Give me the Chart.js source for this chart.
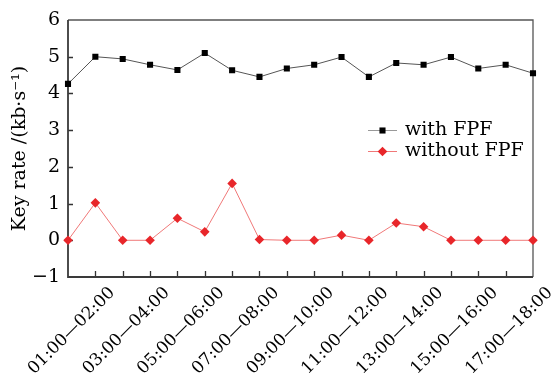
<!DOCTYPE html>
<html><head><meta charset="utf-8">
<script src="https://cdn.jsdelivr.net/npm/chart.js@4/dist/chart.umd.min.js"></script>
<style>html,body{margin:0;padding:0;background:#fff}#wrap{width:557px;height:374px}</style>
</head><body><div id="wrap"><canvas id="c" width="557" height="374"></canvas></div>
<script>
const categories = ['00:00—01:00','01:00—02:00','02:00—03:00','03:00—04:00','04:00—05:00','05:00—06:00',
  '06:00—07:00','07:00—08:00','08:00—09:00','09:00—10:00','10:00—11:00','11:00—12:00',
  '12:00—13:00','13:00—14:00','14:00—15:00','15:00—16:00','16:00—17:00','17:00—18:00'];
const withFPF = [4.26,5.00,4.94,4.78,4.64,5.10,4.63,4.45,4.68,4.78,4.99,4.45,4.83,4.78,4.99,4.68,4.78,4.55];
const withoutFPF = [0,1.02,0,0,0.60,0.23,1.55,0.02,0,0,0.14,0,0.47,0.37,0,0,0,0];
const yTicks = [-1,0,1,2,3,4,5,6];
const seriesNames = ['with FPF','without FPF'];

const FONT = 'DejaVu Serif';

const framePlugin = {
  id: 'frame',
  beforeDatasetsDraw(chart) {
    const {ctx, chartArea: a, scales: {x, y}} = chart;
    ctx.save();
    ctx.strokeStyle = '#555'; ctx.lineWidth = 1.3;
    ctx.beginPath();
    ctx.moveTo(a.left, a.top); ctx.lineTo(a.right, a.top); ctx.lineTo(a.right, a.bottom);
    ctx.stroke();
    ctx.strokeStyle = '#333'; ctx.lineWidth = 1.3;
    ctx.beginPath();
    for (let i = 1; i < categories.length - 1; i++) {
      const px = Math.round(x.getPixelForValue(i)) + 0.5;
      ctx.moveTo(px, a.bottom); ctx.lineTo(px, a.bottom - 6);
    }
    for (const v of yTicks) {
      if (v === yTicks[0] || v === yTicks[yTicks.length-1]) continue;
      const py = Math.round(y.getPixelForValue(v)) + 0.5;
      ctx.moveTo(a.left, py); ctx.lineTo(a.left + 5, py);
    }
    ctx.stroke();
    ctx.strokeStyle = '#3a3a3a'; ctx.lineWidth = 1.8;
    ctx.beginPath();
    ctx.moveTo(a.left, a.top); ctx.lineTo(a.left, a.bottom); ctx.lineTo(a.right, a.bottom);
    ctx.stroke();
    ctx.restore();
  },
  afterDraw(chart) {
    const {ctx} = chart;
    const lx0 = 368, lx1 = 397, tx = 405;
    const rows = [130, 151];
    chart.data.datasets.forEach((ds, i) => {
      const yy = rows[i];
      ctx.save();
      ctx.strokeStyle = ds.legendLineColor; ctx.lineWidth = 1;
      ctx.beginPath(); ctx.moveTo(lx0, yy + 0.5); ctx.lineTo(lx1, yy + 0.5); ctx.stroke();
      ctx.fillStyle = ds.pointBackgroundColor;
      ctx.strokeStyle = ds.pointBackgroundColor;
      Chart.helpers.drawPoint(ctx, {pointStyle: ds.pointStyle, radius: ds.pointRadius, borderWidth: 0}, (lx0 + lx1) / 2, yy + 0.5);
      ctx.fillStyle = '#000';
      ctx.font = '19px "' + FONT + '"';
      ctx.textBaseline = 'middle'; ctx.textAlign = 'left';
      ctx.fillText(ds.label, tx, yy);
      ctx.restore();
    });
  }
};

new Chart(document.getElementById('c'), {
  type: 'line',
  data: {
    labels: categories,
    datasets: [
      {label: seriesNames[0], data: withFPF, borderColor: '#555', borderWidth: 1,
       pointStyle: 'rect', pointRadius: 4.3, pointBackgroundColor: '#000', pointBorderColor: '#000', pointBorderWidth: 0,
       legendLineColor: '#999', tension: 0},
      {label: seriesNames[1], data: withoutFPF, borderColor: '#f07878', borderWidth: 1,
       pointStyle: 'rectRot', pointRadius: 4.8, pointBackgroundColor: '#e8262a', pointBorderColor: '#e8262a', pointBorderWidth: 0,
       legendLineColor: '#f07878', tension: 0}
    ]
  },
  options: {
    responsive: false, animation: false, devicePixelRatio: 1,
    layout: {padding: {top: 20, right: 24, left: 0, bottom: 0}},
    plugins: {legend: {display: false}, tooltip: {enabled: false}},
    scales: {
      x: {
        type: 'category', offset: false,
        grid: {display: false, drawTicks: false}, border: {display: false},
        ticks: {autoSkip: false, maxRotation: 45, minRotation: 45, labelOffset: 17, padding: 6,
          color: '#000', font: {family: FONT, size: 17},
          callback: (v, i) => (i % 2 === 1 ? categories[i] : '')},
        afterFit: s => { s.height = 97; }
      },
      y: {
        min: yTicks[0], max: yTicks[yTicks.length - 1],
        grid: {display: false, drawTicks: false}, border: {display: false},
        afterBuildTicks: s => { s.ticks = yTicks.map(v => ({value: v})); },
        ticks: {color: '#000', font: {family: FONT, size: 19}, padding: 8,
          callback: v => String(v).replace('-', '\u2212')},
        title: {display: true, text: 'Key rate /(kb·s⁻¹)', color: '#000',
          font: {family: FONT, size: 19}, padding: {top: 9, bottom: 0}},
        afterFit: s => { s.width = 68; }
      }
    }
  },
  plugins: [framePlugin]
});
</script></body></html>
